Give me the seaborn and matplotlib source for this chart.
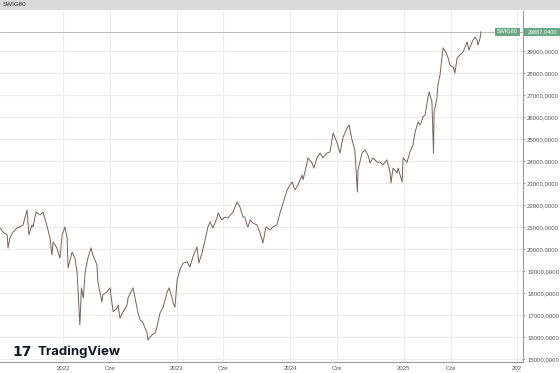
import matplotlib
matplotlib.use("Agg")
import matplotlib.pyplot as plt
from matplotlib.patches import Rectangle
import pandas as pd
import seaborn as sns

# SWIG80, closes (approximate)
dates = [
    "2021-06-12", "2021-06-22", "2021-07-05", "2021-07-08", "2021-07-14", "2021-07-24",
    "2021-08-06", "2021-08-15", "2021-08-25", "2021-09-07", "2021-09-13", "2021-09-23",
    "2021-09-26", "2021-10-06", "2021-10-19", "2021-10-28", "2021-11-07", "2021-11-20",
    "2021-11-26", "2021-11-30", "2021-12-12", "2021-12-22", "2021-12-29", "2022-01-07",
    "2022-01-14", "2022-01-17", "2022-01-30", "2022-02-08", "2022-02-15", "2022-02-24",
    "2022-03-01", "2022-03-07", "2022-03-13", "2022-03-22", "2022-04-01", "2022-04-07",
    "2022-04-20", "2022-04-23", "2022-05-06", "2022-05-09", "2022-05-22", "2022-06-01",
    "2022-06-07", "2022-06-11", "2022-06-24", "2022-06-27", "2022-07-03", "2022-07-13",
    "2022-07-26", "2022-07-29", "2022-08-14", "2022-08-20", "2022-08-30", "2022-09-06",
    "2022-09-15", "2022-09-28", "2022-10-01", "2022-10-14", "2022-10-24", "2022-10-30",
    "2022-11-09", "2022-11-19", "2022-12-01", "2022-12-08", "2022-12-17", "2022-12-21",
    "2022-12-27", "2023-01-03", "2023-01-12", "2023-01-22", "2023-02-04", "2023-02-13",
    "2023-02-23", "2023-03-08", "2023-03-14", "2023-03-24", "2023-04-03", "2023-04-12",
    "2023-04-19", "2023-04-28", "2023-05-11", "2023-05-15", "2023-05-27", "2023-06-06",
    "2023-06-16", "2023-06-29", "2023-07-02", "2023-07-15", "2023-07-24", "2023-08-03",
    "2023-08-09", "2023-08-16", "2023-08-19", "2023-08-26", "2023-09-04", "2023-09-17",
    "2023-09-27", "2023-10-06", "2023-10-16", "2023-10-29", "2023-11-07", "2023-11-20",
    "2023-11-30", "2023-12-10", "2023-12-23", "2024-01-01", "2024-01-08", "2024-01-17",
    "2024-01-27", "2024-02-09", "2024-02-12", "2024-02-25", "2024-02-28", "2024-03-12",
    "2024-03-18", "2024-03-28", "2024-04-07", "2024-04-16", "2024-04-29", "2024-05-09",
    "2024-05-19", "2024-05-31", "2024-06-10", "2024-06-20", "2024-07-03", "2024-07-09",
    "2024-07-19", "2024-07-28", "2024-08-05", "2024-08-07", "2024-08-20", "2024-08-30",
    "2024-09-08", "2024-09-15", "2024-09-24", "2024-10-07", "2024-10-17", "2024-10-26",
    "2024-11-08", "2024-11-18", "2024-11-21", "2024-11-28", "2024-12-11", "2024-12-14",
    "2024-12-27", "2024-12-30", "2025-01-12", "2025-01-21", "2025-01-31", "2025-02-07",
    "2025-02-16", "2025-02-23", "2025-03-01", "2025-03-04", "2025-03-11", "2025-03-17",
    "2025-03-24", "2025-04-02", "2025-04-07", "2025-04-09", "2025-04-18", "2025-04-21",
    "2025-04-28", "2025-05-04", "2025-05-08", "2025-05-17", "2025-05-24", "2025-05-30",
    "2025-06-09", "2025-06-15", "2025-06-22", "2025-07-01", "2025-07-11", "2025-07-24",
    "2025-07-30", "2025-08-09", "2025-08-19", "2025-08-25", "2025-08-28", "2025-09-04",
    "2025-09-07",
]
closes = [
    20950, 20770, 20640, 20050, 20500, 20770,
    20950, 21000, 21090, 21770, 20640, 21090,
    21000, 21680, 21550, 21680, 21230, 20500,
    19730, 20320, 20050, 19590, 20640, 21000,
    20500, 19140, 19860, 19590, 18950, 16550,
    18230, 17770, 18950, 19590, 20050, 19730,
    19270, 18500, 17590, 17910, 18050, 18230,
    17590, 17140, 17320, 17450, 16860, 17140,
    17450, 17770, 18230, 17820, 17090, 16770,
    16640, 16180, 15860, 16090, 16180, 16450,
    17090, 17360, 18000, 18230, 17820, 17550,
    17360, 18590, 19050, 19360, 19410, 19180,
    19640, 20090, 19360, 19820, 20410, 21000,
    21230, 20950, 21410, 21640, 21320, 21450,
    21410, 21640, 21680, 22140, 21910, 21450,
    21450, 21090, 21000, 21320, 21180, 21090,
    20730, 20270, 21000, 20860, 21000, 21090,
    21640, 22090, 22680, 22910, 23050, 22680,
    22910, 23360, 23140, 23910, 24140, 23910,
    23680, 24140, 24360, 24140, 24360, 24410,
    25270, 24860, 24360, 25090, 25500, 25640,
    24950, 24500, 22590, 23590, 24360, 24500,
    24270, 23910, 24140, 23950, 23950, 23820,
    24050, 23500, 23000, 23680, 23450, 23680,
    23050, 24140, 23950, 24410, 24730, 25320,
    25770, 25640, 25860, 26000, 26090, 26640,
    27140, 26680, 24360, 26230, 26860, 27450,
    27910, 28680, 29140, 28950, 28680, 28360,
    28270, 28000, 28680, 28820, 28950, 29410,
    29050, 29410, 29640, 29500, 29270, 29590,
    29887.04,
]
last_price = 29887.04
symbol = "SWIG80"
y_ticks = list(range(15000, 30000, 1000))
x_tick_dates = ["2022-01-01", "2022-06-01", "2023-01-01", "2023-06-01", "2024-01-01",
                "2024-06-01", "2025-01-01", "2025-06-01", "2026-01-01"]
x_tick_labels = ["2022", "Cze", "2023", "Cze", "2024", "Cze", "2025", "Cze", "202"]

df = pd.DataFrame({"date": pd.to_datetime(dates), "close": closes})

sns.set_theme(style="white")
plt.rcParams["font.family"] = ["Liberation Sans", "DejaVu Sans"]

W, H = 560, 373
fig = plt.figure(figsize=(W / 100, H / 100), dpi=100)
fig.patch.set_facecolor("white")
ax = fig.add_axes([0, 11 / H, 523 / W, 351 / H])

sns.lineplot(data=df, x="date", y="close", ax=ax, color="#76625c", lw=0.7, zorder=3)

ax.set_xlim(pd.Timestamp("2021-06-12"), pd.Timestamp("2026-01-20"))
ax.set_ylim(14860, 30820)

ax.set_yticks(y_ticks)
ax.set_yticklabels([f"{v:.4f}".replace(".", ",") for v in y_ticks])
ax.yaxis.tick_right()
ax.set_xticks(pd.to_datetime(x_tick_dates))
ax.set_xticklabels(x_tick_labels)
ax.tick_params(axis="both", labelsize=4.3, labelcolor="#555555", color="#999999",
               length=1.5, width=0.6, pad=1.5)
ax.set_xlabel("")
ax.set_ylabel("")

ax.grid(True, color="#ececec", lw=0.8)
ax.set_axisbelow(True)
for side in ("left", "top"):
    ax.spines[side].set_visible(False)
for side in ("right", "bottom"):
    ax.spines[side].set_color("#9a9a9a")
    ax.spines[side].set_linewidth(0.8)

# last price line
ax.axhline(last_price, color="#b0b0b0", lw=0.6, zorder=2)

# header strip
fig.patches.append(Rectangle((0, 1 - 10 / H), 1, 10 / H, transform=fig.transFigure,
                             facecolor="#dadada", edgecolor="none", zorder=0))
fig.text(3 / W, 1 - 5 / H, symbol, fontsize=4.5, color="#333333", va="center", ha="left")

# price label boxes
y_lab = ax.transData.transform((0, last_price))[1] / H
box_kw = dict(transform=fig.transFigure, facecolor="#6aa981", edgecolor="none", zorder=5)
fig.patches.append(Rectangle((495 / W, y_lab - 4 / H), 25 / W, 8 / H, **box_kw))
fig.patches.append(Rectangle((524 / W, y_lab - 4 / H), 36 / W, 8 / H, **box_kw))
fig.text(507.5 / W, y_lab, symbol, fontsize=4, color="white", ha="center", va="center", zorder=6)
fig.text(542 / W, y_lab, f"{last_price:.4f}".replace(".", ","), fontsize=4,
         color="white", ha="center", va="center", zorder=6)

# TradingView watermark
fig.text(12 / W, 1 - 352 / H, "17", fontsize=10, fontweight="heavy", color="#131722",
         ha="left", va="center", family="DejaVu Sans")
fig.text(37 / W, 1 - 352 / H, "TradingView", fontsize=9.5, fontweight="bold",
         color="#131722", ha="left", va="center", family="Inter")

fig.savefig("out.png", dpi=100, facecolor="white")
